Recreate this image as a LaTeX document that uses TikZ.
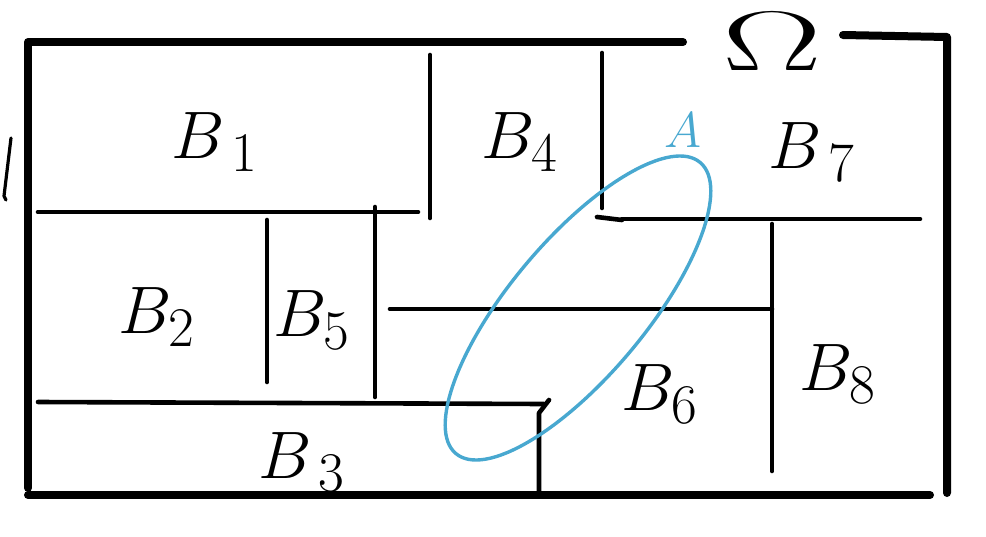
\documentclass[tikz,border=0pt]{standalone}
\usepackage{amsmath}
\usepackage{xcolor}
\usetikzlibrary{positioning, calc}
\definecolor{inkblue}{RGB}{72,168,208}

\begin{document}
\begin{tikzpicture}[x=0.5pt, y=-0.5pt, line cap=round, line join=round,
  wall/.style={line width=4pt, black},
  part/.style={line width=2.3pt, black},
  roomlabel/.style={font=\Huge, transform shape, scale=1.35, inner sep=0pt}]
  \useasboundingbox (0,0) rectangle (986,536);

  % Outer boundary
  \draw[wall] (683,42) -- (28,42) -- (28,488);
  \draw[wall] (28,495) -- (930,495);
  \draw[wall] (843,35) -- (947,37) -- (947,493);

  % Stray stroke at the left border
  \draw[line width=1.6pt] (11,138) -- (4,196) -- (6,200);

  % Inner walls
  \draw[part] (38,212) -- (418,212);
  \draw[part] (430,55) -- (430,218);
  \draw[part] (602,53) -- (602,208);
  \draw[part] (597,217) -- (622,220);
  \draw[part] (622,219) -- (920,219);
  \draw[part] (267,220) -- (267,382);
  \draw[part] (375,207) -- (375,397);
  \draw[part] (390,309) -- (772,309);
  \draw[part] (772,224) -- (772,471);
  \draw[part] (38,402) -- (544,404);
  \draw[part] (549,400) -- (539,413) -- (539,493);

  % Set A
  \draw[inkblue, line width=1.7pt, rotate around={50:(578,308)}] (578,308) ellipse (95pt and 34pt);

  % Labels
  \node[roomlabel] (b1) at (215,142) {$B_{\,1}$};
  \node[roomlabel] (b2) at (157,317) {$B_{2}$};
  \node[roomlabel] (b3) at (302,462) {$B_{\,3}$};
  \node[roomlabel] (b4) at (520,142) {$B_{4}$};
  \node[roomlabel] (b5) at (312,320) {$B_{5}$};
  \node[roomlabel] (b6) at (660,394) {$B_{6}$};
  \node[roomlabel] (b7) at (812,152) {$B_{\,7}$};
  \node[roomlabel] (b8) at (838,374) {$B_{8}$};
  \node[roomlabel, scale=0.75, inkblue] (a) at (683,130) {$A$};
  \node[font=\Huge, transform shape, xscale=3.0, yscale=1.7, inner sep=0pt] (omega) at (772,42) {$\Omega$};
\end{tikzpicture}
\end{document}
